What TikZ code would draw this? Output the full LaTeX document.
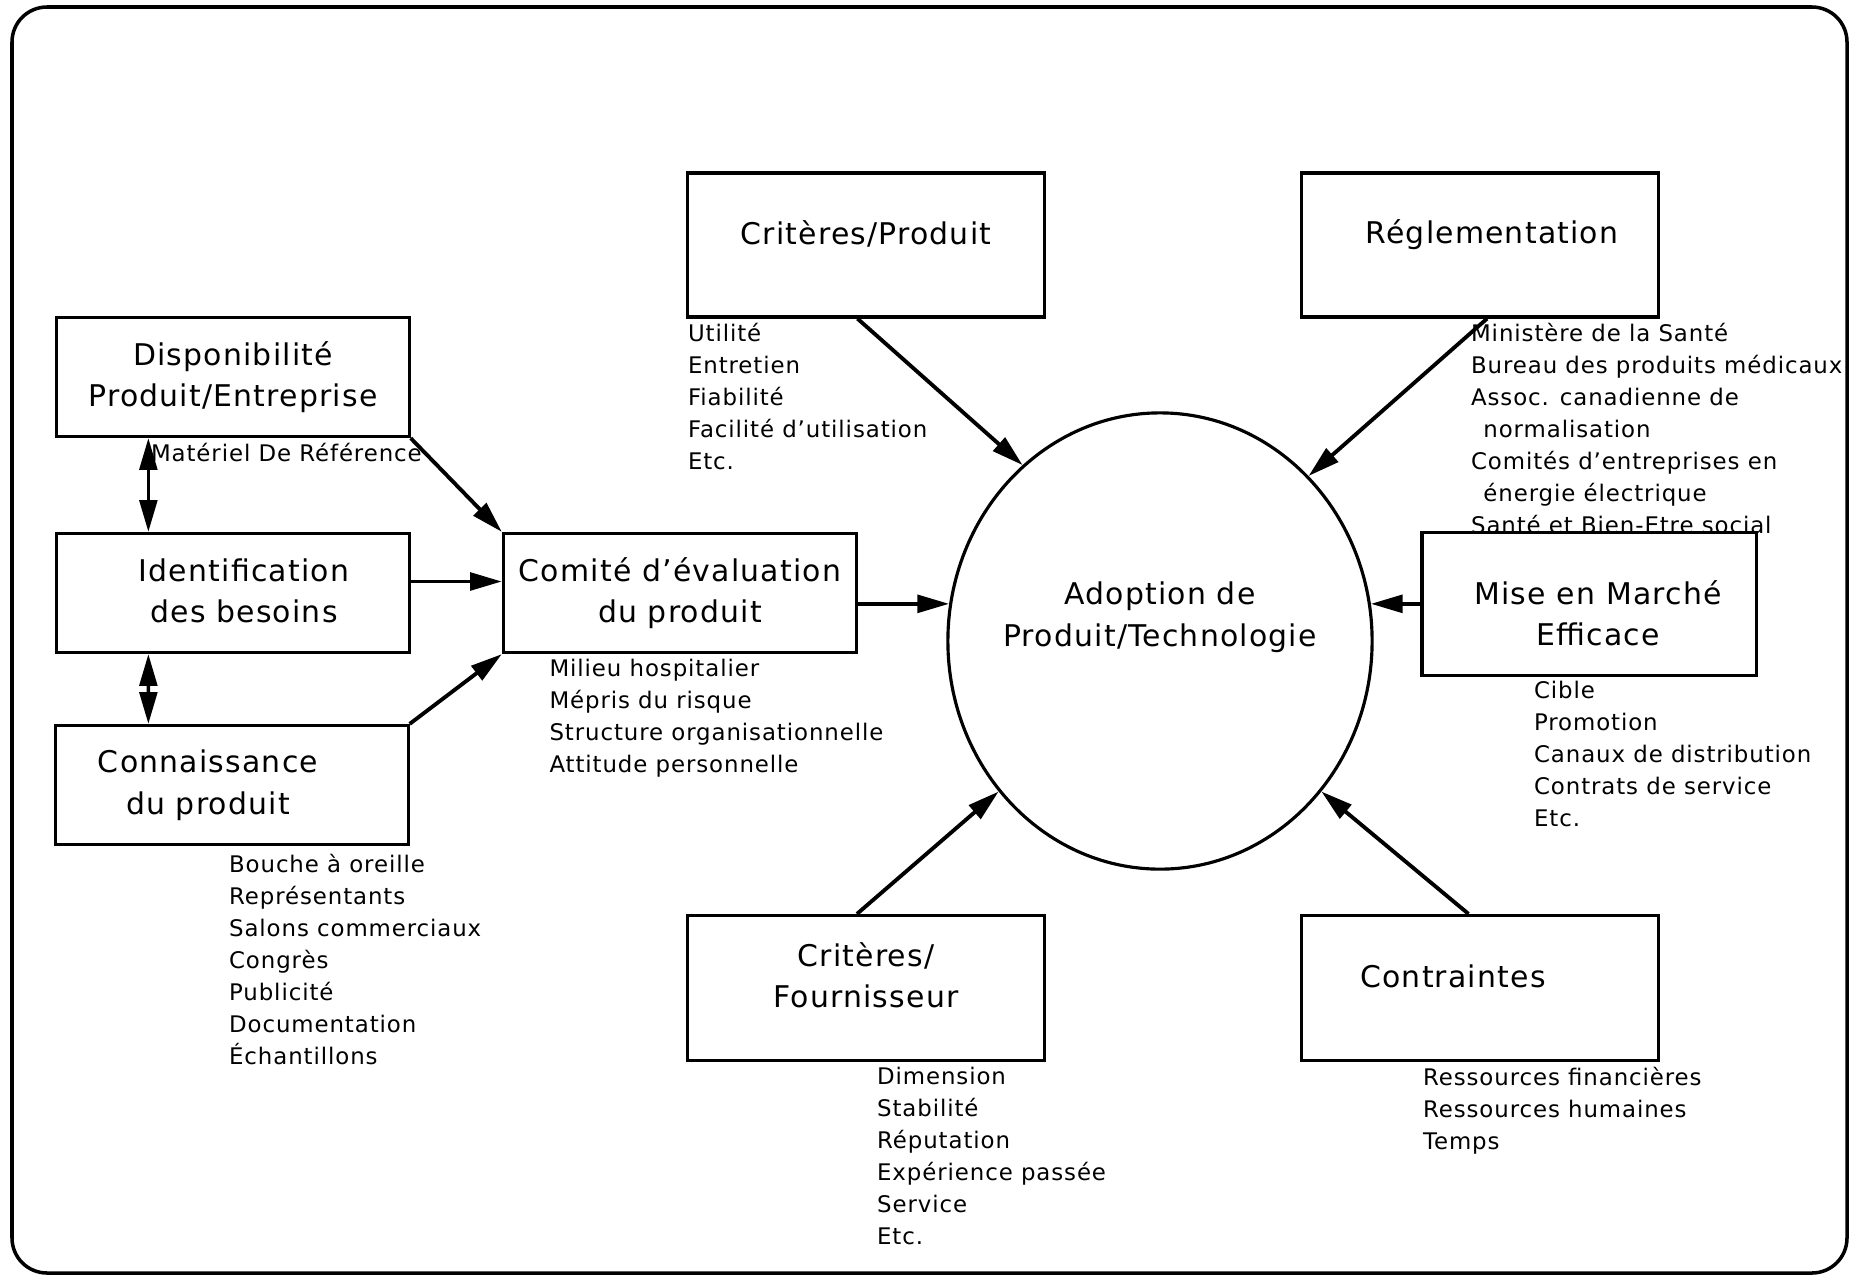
\documentclass[tikz,border=0pt]{standalone}
\usepackage{fontspec}
\setmainfont{DejaVu Sans}[LetterSpace=4]
\usepackage{tikz}
\usetikzlibrary{arrows.meta,positioning,shapes.geometric,calc}

\begin{document}
\begin{tikzpicture}[x=0.01cm,y=-0.01cm,
      every node/.style={font=\fontsize{8.5}{11.8}\selectfont},
      boite/.style={draw,line width=0.9pt,fill=white,inner sep=0pt},
      petite/.style={minimum width=3.52cm,minimum height=1.19cm},
      grande/.style={minimum width=3.56cm,minimum height=1.44cm},
      rond/.style={draw,ellipse,line width=0.9pt,inner sep=0pt,
        minimum width=4.24cm,minimum height=4.56cm},
      titre/.style={align=center,inner sep=0pt},
      liste/.style={font=\fontsize{6.5}{9.1}\selectfont,align=left,
        inner sep=0pt},
      fleche/.style={-{Triangle[length=9pt,width=5pt]},line width=1.1pt},
      dfleche/.style={{Triangle[length=9pt,width=5pt]}-{Triangle[length=9pt,width=5pt]},
        line width=1pt}
    ]
      \useasboundingbox (0,0) rectangle (1854,1275);
      \draw[line width=1pt,rounded corners=0.35cm] (12,7) rectangle (1847,1273);

      % colonne de gauche
      \node[boite,petite] (dispo) at (233,377) {};
      \node[boite,petite] (ident) at (233,593) {};
      \node[boite,petite] (conn)  at (232,785) {};
      \node[boite,petite,minimum width=3.53cm] (comite) at (680,593) {};
      \node[titre] (dispo-t) at (dispo) {Disponibilité\\Produit/Entreprise};
      \node[titre] (ident-t) at ([shift={(11,-2)}]ident) {Identification\\des besoins};
      \node[titre] (conn-t) at ([shift={(-24,0)}]conn) {Connaissance\\du produit};
      \node[titre] (comite-t) at (comite) {Comité d'évaluation\\du produit};

      \node[liste,below right=0.045cm and 0.95cm of dispo.south west] (dispo-l)
        {Matériel De Référence};
      \node[liste,below right=0.075cm and 1.74cm of conn.south west] (conn-l)
        {Bouche à oreille\\Représentants\\Salons commerciaux\\Congrès\\Publicité\\Documentation\\Échantillons};
      \node[liste,below right=0.045cm and 0.47cm of comite.south west] (comite-l)
        {Milieu hospitalier\\Mépris du risque\\Structure organisationnelle\\Attitude personnelle};

      % centre et facteurs
      \node[boite,grande] (critp) at (866,245) {};
      \node[boite,grande] (regl)  at (1480,245) {};
      \node[titre] (critp-t) at ([shift={(0,-11)}]critp) {Critères/Produit};
      \node[titre] (regl-t) at ([shift={(12,-10)}]regl) {Réglementation};
      \node[rond] (adopt) at (1160,641) {};
      \node[titre] (adopt-t) at (1160,617) {Adoption de\\Produit/Technologie};

      \node[liste,below right=0.035cm and 0.01cm of critp.south west] (critp-l)
        {Utilité\\Entretien\\Fiabilité\\Facilité d'utilisation\\Etc.};
      \node[liste,below right=0.035cm and 1.70cm of regl.south west] (regl-l)
        {Ministère de la Santé\\Bureau des produits médicaux\\Assoc. canadienne de\\
         \hspace{3.5pt}normalisation\\Comités d'entreprises en\\
         \hspace{3.5pt}énergie électrique\\Santé et Bien-Etre social};

      \node[boite,minimum width=3.34cm,minimum height=1.43cm] (mise) at (1589,604) {};
      \node[boite,grande,minimum height=1.45cm] (critf) at (866,988) {};
      \node[boite,grande,minimum height=1.45cm] (contr) at (1480,988) {};
      \node[titre] (mise-t) at ([shift={(9,9)}]mise) {Mise en Marché\\Efficace};
      \node[titre] (critf-t) at ([shift={(0,-13)}]critf) {Critères/\\Fournisseur};
      \node[titre] (contr-t) at ([shift={(-27,-12)}]contr) {Contraintes};

      \node[liste,below right=0.03cm and 1.13cm of mise.south west] (mise-l)
        {Cible\\Promotion\\Canaux de distribution\\Contrats de service\\Etc.};
      \node[liste,below right=0.045cm and 1.90cm of critf.south west] (critf-l)
        {Dimension\\Stabilité\\Réputation\\Expérience passée\\Service\\Etc.};
      \node[liste,below right=0.045cm and 1.22cm of contr.south west] (contr-l)
        {Ressources financières\\Ressources humaines\\Temps};

      \draw[dfleche] ([xshift=0.93cm]dispo.south west) -- ([xshift=0.93cm]ident.north west);
      \draw[dfleche] ([xshift=0.93cm]ident.south west) -- ([xshift=0.94cm]conn.north west);

      \coordinate (ia) at ([yshift=1.15mm]ident.east);
      \draw[fleche] (dispo.south east) -- (comite.north west);
      \draw[fleche] (ia) -- (ia -| comite.west);
      \draw[fleche] (conn.north east) -- (comite.south west);
      \draw[fleche] (comite.east |- adopt.170) -- (adopt.170);

      \draw[fleche] ([xshift=-0.85mm]critp.south) -- (adopt.128);
      \draw[fleche] ([xshift=0.7mm]regl.south) -- (adopt.48);
      \draw[fleche] (mise.west |- adopt.10) -- (adopt.10);
      \draw[fleche] ([xshift=-0.9mm]critf.north) -- (adopt.223);
      \draw[fleche] ([xshift=-1.15mm]contr.north) -- (adopt.317);
    \end{tikzpicture}
\end{document}
